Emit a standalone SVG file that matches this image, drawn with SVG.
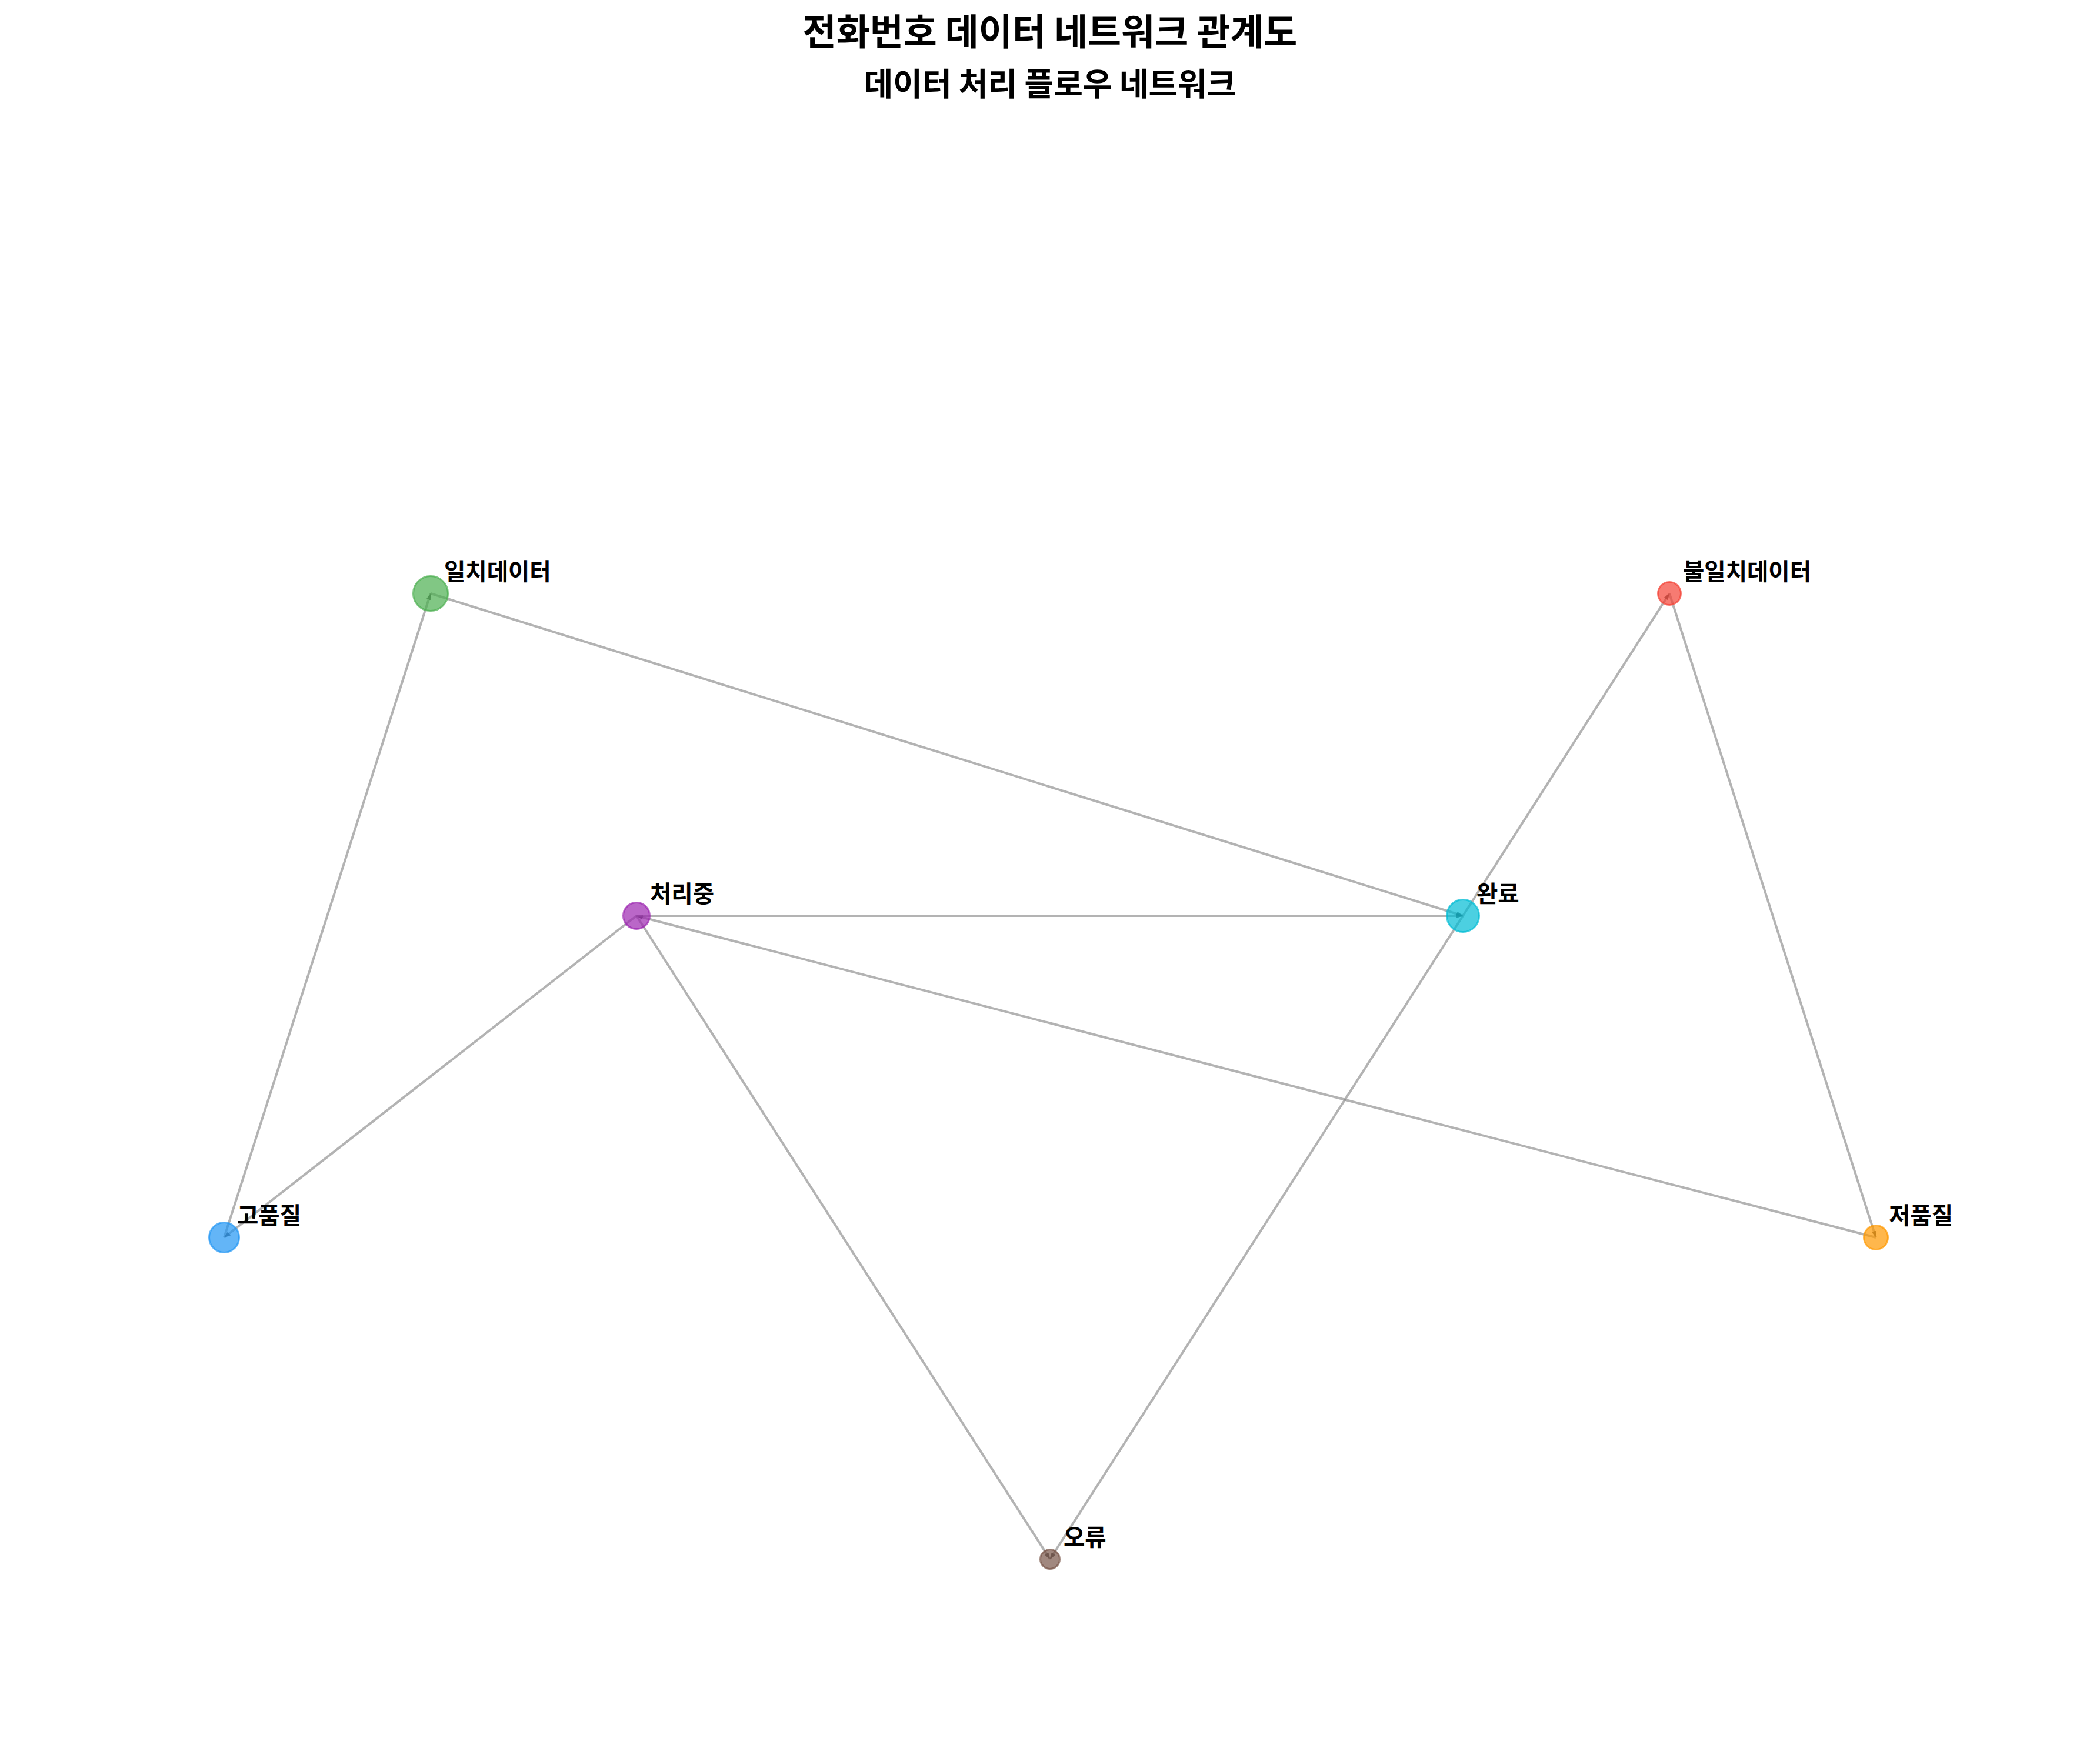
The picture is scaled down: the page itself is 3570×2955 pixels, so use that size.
<svg xmlns="http://www.w3.org/2000/svg" width="3570" height="2955" viewBox="0 0 3570 2955">
<defs>
<style>
.title{font-family:"Noto Sans CJK KR","Noto Sans CJK SC",sans-serif;font-weight:bold;fill:#000;text-anchor:middle}
.lbl{font-family:"Noto Sans CJK KR","Noto Sans CJK SC",sans-serif;font-weight:bold;font-size:39.5px;fill:#000}
.edge{stroke:#808080;stroke-opacity:0.6;stroke-width:4;fill:none;marker-end:url(#arr)}
.node{fill-opacity:0.7;stroke-opacity:0.7;stroke-width:3}
</style>
<marker id="arr" markerUnits="userSpaceOnUse" markerWidth="12" markerHeight="10" refX="11" refY="5" orient="auto">
<path d="M0,1 L11,5 L0,9 Z" fill="#404040" fill-opacity="0.8"/>
</marker>
</defs>
<rect width="3570" height="2955" fill="#fff"/>
<text class="title" x="1785" y="77" font-size="62">전화번호 데이터 네트워크 관계도</text>
<text class="title" x="1785" y="163" font-size="54">데이터 처리 플로우 네트워크</text>
<g id="edges">
<line class="edge" x1="381" y1="2104" x2="732" y2="1009"/>
<line class="edge" x1="732" y1="1009" x2="2487" y2="1557"/>
<line class="edge" x1="2487" y1="1557" x2="2838" y2="1009"/>
<line class="edge" x1="2838" y1="1009" x2="3189" y2="2104"/>
<line class="edge" x1="3189" y1="2104" x2="1082" y2="1557"/>
<line class="edge" x1="1082" y1="1557" x2="2487" y2="1557"/>
<line class="edge" x1="1082" y1="1557" x2="381" y2="2104"/>
<line class="edge" x1="1082" y1="1557" x2="1785" y2="2651"/>
<line class="edge" x1="2487" y1="1557" x2="1785" y2="2651"/>
</g>
<g id="node-match">
<circle class="node" cx="732" cy="1009" r="29.5" fill="#4CAF50" stroke="#4CAF50"/>
<text class="lbl" x="755" y="986">일치데이터</text>
</g>
<g id="node-mismatch">
<circle class="node" cx="2838" cy="1009" r="19.5" fill="#F44336" stroke="#F44336"/>
<text class="lbl" x="2861" y="986">불일치데이터</text>
</g>
<g id="node-processing">
<circle class="node" cx="1082" cy="1557" r="22.5" fill="#9C27B0" stroke="#9C27B0"/>
<text class="lbl" x="1105" y="1534">처리중</text>
</g>
<g id="node-done">
<circle class="node" cx="2487" cy="1557" r="27.5" fill="#00BCD4" stroke="#00BCD4"/>
<text class="lbl" x="2510" y="1534">완료</text>
</g>
<g id="node-high">
<circle class="node" cx="381" cy="2104" r="25.5" fill="#2196F3" stroke="#2196F3"/>
<text class="lbl" x="403" y="2081">고품질</text>
</g>
<g id="node-low">
<circle class="node" cx="3189" cy="2104" r="20.5" fill="#FF9800" stroke="#FF9800"/>
<text class="lbl" x="3211" y="2081">저품질</text>
</g>
<g id="node-error">
<circle class="node" cx="1785" cy="2651" r="16.5" fill="#795548" stroke="#795548"/>
<text class="lbl" x="1808" y="2628">오류</text>
</g>
</svg>
